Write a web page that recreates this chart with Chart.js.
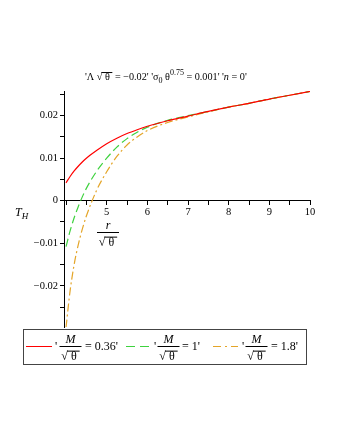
<!DOCTYPE html>
<html>
<head>
<meta charset="utf-8">
<script src="https://cdn.jsdelivr.net/npm/chart.js@4"></script>
<style>
  body { margin: 0; background: #fff; }
  canvas { display: block; }
</style>
</head>
<body>
<canvas id="th" width="340" height="440"></canvas>
<script>
// r / sqrt(theta) sample points, shared by the three curves
var rVals = [4, 4.1, 4.2, 4.3, 4.4, 4.5, 4.75, 5, 5.25, 5.5, 5.75, 6, 6.5, 7, 7.5, 8, 8.5, 9, 9.5, 10];
// T_H for M/sqrt(theta) = 0.36, 1, 1.8
var tRed    = [0.0042, 0.0057, 0.0070, 0.0081, 0.0091, 0.0100, 0.0118, 0.0134, 0.0147, 0.0158, 0.0167, 0.0175, 0.0188, 0.0199, 0.0210, 0.0220, 0.0229, 0.0239, 0.0248, 0.0257];
var tGreen  = [-0.0108, -0.0071, -0.0040, -0.0014, 0.0009, 0.0029, 0.0069, 0.0100, 0.0126, 0.0146, 0.0161, 0.0173, 0.0189, 0.0200, 0.0210, 0.0220, 0.0229, 0.0239, 0.0248, 0.0257];
var tOrange = [-0.0298, -0.0212, -0.0150, -0.0104, -0.0067, -0.0036, 0.0024, 0.0068, 0.0104, 0.0131, 0.0150, 0.0165, 0.0184, 0.0197, 0.0209, 0.0220, 0.0229, 0.0239, 0.0248, 0.0257];
var massLabels = ['0.36', '1', '1.8'];
var xTicks = [4, 4.5, 5, 5.5, 6, 6.5, 7, 7.5, 8, 8.5, 9, 9.5, 10];
var yTicks = [-0.025, -0.02, -0.015, -0.01, -0.005, 0, 0.005, 0.01, 0.015, 0.02, 0.025];

var SERIF = '"Liberation Serif", "DejaVu Serif", serif';
var RED = '#ff0000', GREEN = '#3ed23e', ORANGE = '#e4a528';

function pts(ys) {
    return rVals.map(function(r, i) { return { x: r, y: ys[i] }; });
}

function font(size, italic) {
    return (italic ? 'italic ' : '') + size + 'px ' + SERIF;
}

// draws a row of text pieces, returns the end x
function runs(ctx, x, y, parts, base) {
    base = base || 12;
    parts.forEach(function(p) {
        var size = p.size || base;
        ctx.font = font(size, p.it);
        ctx.fillText(p.t, x, y + (p.dy || 0));
        var w = ctx.measureText(p.t).width;
        if (p.bar) {
            ctx.beginPath();
            ctx.moveTo(x - 1, y - size * 0.78 + 0.5);
            ctx.lineTo(x + w, y - size * 0.78 + 0.5);
            ctx.lineWidth = 1;
            ctx.stroke();
        }
        x += w;
    });
    return x;
}

function width(ctx, parts) {
    var w = 0;
    parts.forEach(function(p) {
        ctx.font = font(p.size || 12, p.it);
        w += ctx.measureText(p.t).width;
    });
    return w;
}

// num over sqrt(theta), bar centred at cx, y
function frac(ctx, cx, y, num, halfW) {
    ctx.textAlign = 'center';
    ctx.font = font(12, true);
    ctx.fillText(num, cx, y - 3);
    ctx.textAlign = 'left';
    ctx.beginPath();
    ctx.moveTo(cx - halfW, y + 0.5);
    ctx.lineTo(cx + halfW, y + 0.5);
    ctx.lineWidth = 1;
    ctx.stroke();
    var den = [{ t: '\u221A' }, { t: ' \u03B8 ', bar: true }];
    runs(ctx, cx - width(ctx, den) / 2, y + 14, den);
}

var decorations = {
    id: 'decorations',
    afterDraw: function(chart) {
        var ctx = chart.ctx;
        ctx.save();
        ctx.fillStyle = '#000';
        ctx.strokeStyle = '#000';
        ctx.textBaseline = 'alphabetic';

        // title
        runs(ctx, 85, 80, [
            { t: "'\u039B " }, { t: '\u221A' }, { t: ' \u03B8 ', bar: true },
            { t: " = \u22120.02' '\u03C3" }, { t: '0', size: 8, dy: 3 },
            { t: ' \u03B8' }, { t: '0.75', size: 8, dy: -5 },
            { t: " = 0.001' '" }, { t: 'n', it: true }, { t: " = 0'" }
        ], 10.2);

        // y title T_H
        runs(ctx, 15, 216, [{ t: 'T', it: true, size: 12 }, { t: 'H', it: true, size: 9, dy: 3 }]);

        // x title r / sqrt(theta)
        frac(ctx, 108, 232, 'r', 11);

        // legend box
        ctx.lineWidth = 1;
        ctx.strokeStyle = '#444';
        ctx.strokeRect(23.5, 329.5, 283, 35);
        ctx.strokeStyle = '#000';
        var items = [
            { color: RED, dash: [], x0: 26, x1: 52, q: 55, cx: 70.5, eq: 85 },
            { color: GREEN, dash: [9, 5], x0: 126, x1: 150, q: 154, cx: 168.5, eq: 182 },
            { color: ORANGE, dash: [8, 4, 2, 4], x0: 213, x1: 238, q: 242, cx: 256.5, eq: 271 }
        ];
        items.forEach(function(it, i) {
            ctx.save();
            ctx.strokeStyle = it.color;
            ctx.setLineDash(it.dash);
            ctx.lineWidth = 1;
            ctx.beginPath();
            ctx.moveTo(it.x0, 346.5);
            ctx.lineTo(it.x1, 346.5);
            ctx.stroke();
            ctx.restore();
            ctx.font = font(12);
            ctx.fillText("'", it.q, 350);
            frac(ctx, it.cx, 346, 'M', 11);
            ctx.font = font(12);
            ctx.fillText("= " + massLabels[i] + "'", it.eq, 350);
        });
        ctx.restore();
    }
};

function yFmt(v) {
    var r = Math.round(v * 1000) / 1000;
    if (Math.abs(r * 100 - Math.round(r * 100)) > 1e-9) return '';
    if (r === 0) return '0';
    return (r < 0 ? '\u2212' : '') + Math.abs(r).toFixed(2);
}

new Chart(document.getElementById('th').getContext('2d'), {
    type: 'line',
    data: {
        datasets: [
            { label: "M/sqrt(theta) = 0.36", data: pts(tRed), borderColor: RED, borderWidth: 1.2, pointRadius: 0, fill: false, cubicInterpolationMode: 'monotone' },
            { label: "M/sqrt(theta) = 1", data: pts(tGreen), borderColor: GREEN, borderWidth: 1.2, borderDash: [8, 4], pointRadius: 0, fill: false, cubicInterpolationMode: 'monotone' },
            { label: "M/sqrt(theta) = 1.8", data: pts(tOrange), borderColor: ORANGE, borderWidth: 1.2, borderDash: [8, 3, 2, 3], pointRadius: 0, fill: false, cubicInterpolationMode: 'monotone' }
        ]
    },
    options: {
        responsive: false,
        animation: false,
        layout: { padding: { left: 24, right: 30, top: 91, bottom: 113 } },
        plugins: { legend: { display: false }, tooltip: { enabled: false } },
        scales: {
            x: {
                type: 'linear', min: 3.95, max: 10, position: { y: 0 },
                afterBuildTicks: function(s) { s.ticks = xTicks.map(function(v) { return { value: v }; }); },
                ticks: {
                    autoSkip: false, maxRotation: 0, color: '#000', padding: 1,
                    font: { family: SERIF, size: 10.5 },
                    callback: function(v) { return (v % 1 === 0 && v > 4) ? String(v) : ''; }
                },
                grid: { drawOnChartArea: false, tickLength: 4, color: '#000' },
                border: { color: '#000' }
            },
            y: {
                min: -0.0297, max: 0.0258,
                afterBuildTicks: function(s) { s.ticks = yTicks.map(function(v) { return { value: v }; }); },
                afterFit: function(s) { s.width = 40; },
                ticks: {
                    autoSkip: false, color: '#000', padding: 2,
                    font: { family: SERIF, size: 10.5 },
                    callback: yFmt
                },
                grid: { drawOnChartArea: false, tickLength: 4, color: '#000' },
                border: { color: '#000' }
            }
        }
    },
    plugins: [decorations]
});
</script>
</body>
</html>
